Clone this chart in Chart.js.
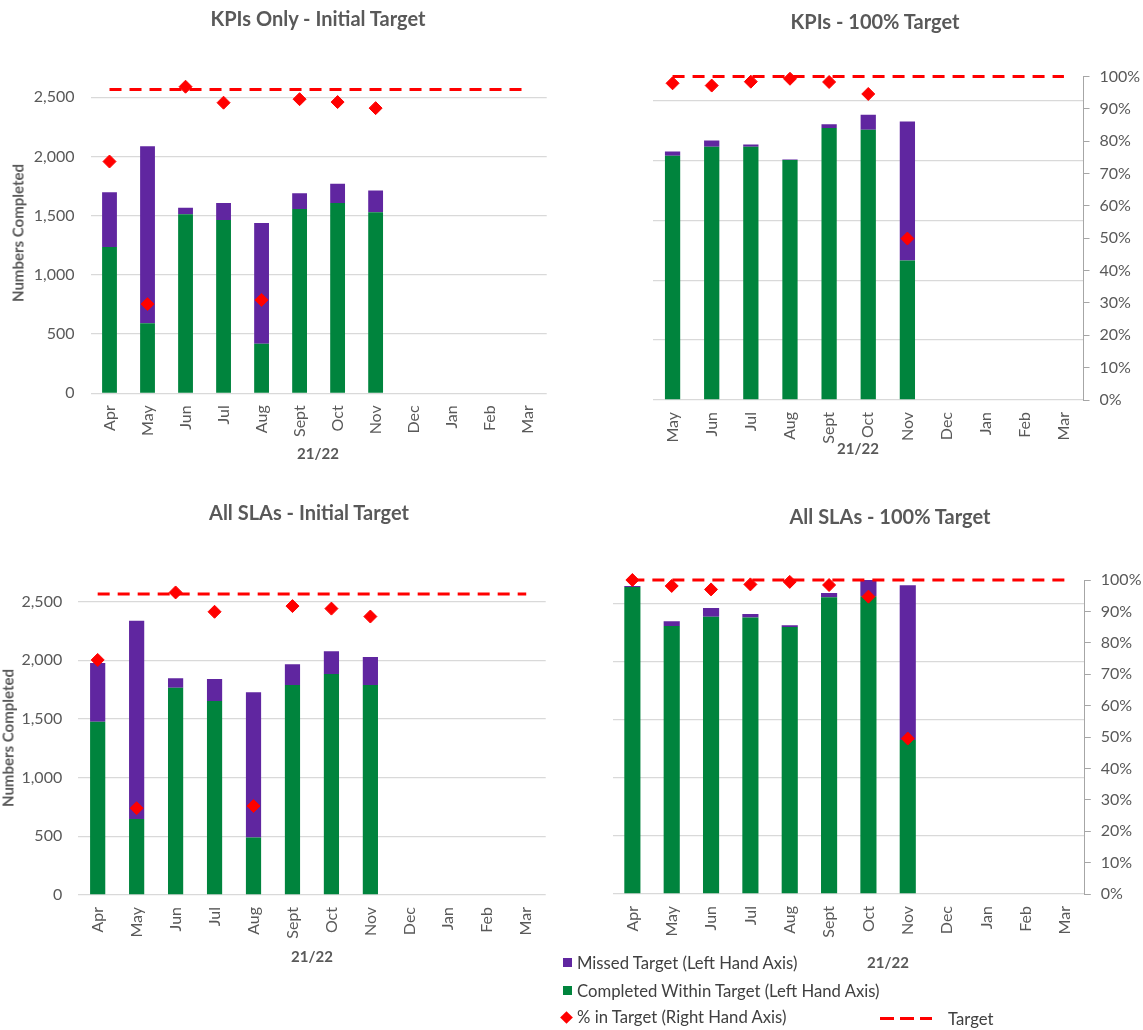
<!DOCTYPE html>
<html>
<head>
<meta charset="utf-8">
<script src="https://cdn.jsdelivr.net/npm/chart.js@4.4.0/dist/chart.umd.min.js"></script>
<style>
  html, body { margin: 0; padding: 0; background: #fff; }
  body { width: 1143px; height: 1030px; position: relative; overflow: hidden; font-family: Lato, "Open Sans", sans-serif; }
  .box { position: absolute; }
  .txt { position: absolute; white-space: nowrap; line-height: 1; transform: translate(-50%, -50%); color: #595959; }
  .title { font-weight: bold; font-size: 20px; }
  .yr { font-weight: bold; font-size: 15px; }
  .ytitle { font-weight: bold; font-size: 15px; transform: translate(-50%, -50%) rotate(-90deg); }
  .leg { position: absolute; white-space: nowrap; line-height: 1; transform: translateY(-50%); color: #404040; font-size: 16.7px; }
  .sq { position: absolute; width: 9px; height: 9px; }
  .dia { position: absolute; width: 9px; height: 9px; background: #ff0000; transform: rotate(45deg); }
  .dash { position: absolute; height: 3px; background: repeating-linear-gradient(to right, #ff0000 0 14px, transparent 14px 20px); }
</style>
</head>
<body>

<div class="box" style="left:0px;top:0px;width:560px;height:470px"><canvas id="c1"></canvas></div>
<div class="box" style="left:580px;top:0px;width:563px;height:470px"><canvas id="c2"></canvas></div>
<div class="box" style="left:0px;top:490px;width:560px;height:470px"><canvas id="c3"></canvas></div>
<div class="box" style="left:580px;top:490px;width:563px;height:470px"><canvas id="c4"></canvas></div>

<div class="txt title" style="left:318px;top:18px">KPIs Only - Initial Target</div>
<div class="txt title" style="left:875px;top:21px">KPIs - 100% Target</div>
<div class="txt title" style="left:309px;top:512px">All SLAs - Initial Target</div>
<div class="txt title" style="left:890px;top:516px">All SLAs - 100% Target</div>

<div class="txt ytitle" style="left:18px;top:233px">Numbers Completed</div>
<div class="txt ytitle" style="left:8px;top:738px">Numbers Completed</div>

<div class="txt yr" style="left:318px;top:453px">21/22</div>
<div class="txt yr" style="left:858px;top:448px">21/22</div>
<div class="txt yr" style="left:312px;top:956px">21/22</div>
<div class="txt yr" style="left:888px;top:962px">21/22</div>

<div class="sq" style="left:563px;top:958px;background:#6026a0"></div>
<div class="leg" style="left:577px;top:963px">Missed Target (Left Hand Axis)</div>
<div class="sq" style="left:563px;top:986px;background:#00843d"></div>
<div class="leg" style="left:577px;top:991px">Completed Within Target (Left Hand Axis)</div>
<div class="dia" style="left:562px;top:1013px"></div>
<div class="leg" style="left:577px;top:1017px">% in Target (Right Hand Axis)</div>
<div class="dash" style="left:880px;top:1017px;width:52px"></div>
<div class="leg" style="left:948px;top:1019px">Target</div>

<script>
// ---------- data ----------
const monthsFull = ['Apr','May','Jun','Jul','Aug','Sept','Oct','Nov','Dec','Jan','Feb','Mar'];
const monthsFromMay = ['May','Jun','Jul','Aug','Sept','Oct','Nov','Dec','Jan','Feb','Mar'];

// left-axis (numbers) tick values and right-axis (%) tick values
const countTicks = [0, 500, 1000, 1500, 2000, 2500];
const pctTicks = [0, 0.1, 0.2, 0.3, 0.4, 0.5, 0.6, 0.7, 0.8, 0.9, 1.0];
const leftAxisMax = 2700;

// KPIs Only - Initial Target
const kpiInitCompleted = [1236, 591, 1513, 1464, 419, 1557, 1607, 1529, null, null, null, null];
const kpiInitMissed    = [462, 1495, 53, 143, 1019, 132, 163, 184, null, null, null, null];
const kpiInitPct       = [0.725, 0.279, 0.959, 0.909, 0.292, 0.920, 0.911, 0.892, null, null, null, null];
const kpiInitTarget    = [0.95, 0.95, 0.95, 0.95, 0.95, 0.95, 0.95, 0.95, 0.95, 0.95, 0.95, 0.95];

// KPIs - 100% Target
const kpi100Completed = [2038, 2113, 2113, 2003, 2271, 2255, 1165, null, null, null, null];
const kpi100Missed    = [36, 53, 20, 5, 31, 125, 1159, null, null, null, null];
const kpi100Pct       = [0.979, 0.972, 0.984, 0.993, 0.983, 0.946, 0.499, null, null, null, null];
const kpi100Target    = [1, 1, 1, 1, 1, 1, 1, 1, 1, 1, 1];

// All SLAs - Initial Target
const slaInitCompleted = [1477, 648, 1767, 1653, 489, 1790, 1884, 1790, null, null, null, null];
const slaInitMissed    = [500, 1690, 80, 188, 1238, 176, 193, 238, null, null, null, null];
const slaInitPct       = [0.742, 0.274, 0.955, 0.894, 0.281, 0.912, 0.904, 0.879, null, null, null, null];
const slaInitTarget    = [0.95, 0.95, 0.95, 0.95, 0.95, 0.95, 0.95, 0.95, 0.95, 0.95, 0.95, 0.95];

// All SLAs - 100% Target
const sla100Completed = [2640, 2305, 2385, 2377, 2296, 2552, 2560, 1325, null, null, null, null];
const sla100Missed    = [9, 40, 75, 31, 15, 37, 140, 1330, null, null, null, null];
const sla100Pct       = [1.0, 0.981, 0.970, 0.986, 0.994, 0.984, 0.947, 0.495, null, null, null, null];
const sla100Target    = [1, 1, 1, 1, 1, 1, 1, 1, 1, 1, 1, 1];

// ---------- styling ----------
const GREEN = '#00843d';
const PURPLE = '#6026a0';
const RED = '#ff0000';
const GRID = '#d9d9d9';
const TEXT = '#595959';
const FONT = 'Lato, "Open Sans", sans-serif';

function build(id, cfg) {
  const datasets = [
    { type: 'bar', label: 'Completed Within Target (Left Hand Axis)', data: cfg.completed, backgroundColor: GREEN,
      yAxisID: 'y', order: 3, barPercentage: cfg.bp, categoryPercentage: 1 },
    { type: 'bar', label: 'Missed Target (Left Hand Axis)', data: cfg.missed, backgroundColor: PURPLE,
      yAxisID: 'y', order: 3, barPercentage: cfg.bp, categoryPercentage: 1 },
    { type: 'line', label: 'Target', data: cfg.target, yAxisID: 'y2', borderColor: RED, borderWidth: 3,
      borderDash: [12, 8], pointRadius: 0, fill: false, order: 1, clip: false, tension: 0 },
    { type: 'line', label: '% in Target (Right Hand Axis)', data: cfg.pct, yAxisID: 'y2', showLine: false,
      pointStyle: 'rectRot', pointRadius: 6.5, pointBackgroundColor: RED, pointBorderColor: RED,
      pointBorderWidth: 1, order: 0, clip: false }
  ];
  return new Chart(document.getElementById(id), {
    data: { labels: cfg.labels, datasets },
    options: {
      responsive: true, maintainAspectRatio: false, animation: false,
      layout: { padding: cfg.padding },
      plugins: { legend: { display: false }, tooltip: { enabled: false }, title: { display: false } },
      scales: {
        x: {
          stacked: true,
          grid: { display: false, drawTicks: false },
          border: { display: false },
          ticks: { color: TEXT, font: { family: FONT, size: 16 }, minRotation: 90, maxRotation: 90,
                    autoSkip: false, padding: 12 },
          afterFit: s => { s.height = cfg.xh; }
        },
        y: {
          stacked: true, position: 'left', min: 0, max: leftAxisMax,
          grid: { color: GRID, lineWidth: 1.3, drawTicks: false },
          border: { display: false },
          ticks: { display: cfg.leftTicks, autoSkip: false, color: TEXT,
                    font: { family: FONT, size: 16 }, padding: 16,
                    callback: v => v.toLocaleString('en-US') },
          afterBuildTicks: s => { s.ticks = countTicks.map(v => ({ value: v })); },
          afterFit: s => { s.width = cfg.yw; }
        },
        y2: {
          stacked: false, position: 'right', min: 0, max: 1, display: cfg.rightAxis,
          grid: { drawOnChartArea: false, drawTicks: true, tickLength: 6, color: '#a6a6a6' },
          border: { display: true, color: '#a6a6a6', width: 1 },
          ticks: { autoSkip: false, color: TEXT, font: { family: FONT, size: 16 }, padding: 10,
                   callback: v => Math.round(v * 100) + '%' },
          afterBuildTicks: s => { s.ticks = pctTicks.map(v => ({ value: v })); },
          afterFit: s => { s.width = cfg.y2w; }
        }
      }
    }
  });
}

build('c1', { labels: monthsFull, completed: kpiInitCompleted, missed: kpiInitMissed, pct: kpiInitPct,
  target: kpiInitTarget, bp: 0.39, leftTicks: true, rightAxis: false,
  padding: { top: 73.6, right: 13.3, left: 0, bottom: 0 }, yw: 90.5, y2w: 0, xh: 76.7 });

build('c2', { labels: monthsFromMay, completed: kpi100Completed, missed: kpi100Missed, pct: kpi100Pct,
  target: kpi100Target, bp: 0.39, leftTicks: false, rightAxis: true,
  padding: { top: 76.5, right: 0, left: 0, bottom: 0 }, yw: 73, y2w: 59.5, xh: 70 });

build('c3', { labels: monthsFull, completed: slaInitCompleted, missed: slaInitMissed, pct: slaInitPct,
  target: slaInitTarget, bp: 0.39, leftTicks: true, rightAxis: false,
  padding: { top: 88.2, right: 14.3, left: 0, bottom: 0 }, yw: 78.2, y2w: 0, xh: 65 });

build('c4', { labels: monthsFull, completed: sla100Completed, missed: sla100Missed, pct: sla100Pct,
  target: sla100Target, bp: 0.41, leftTicks: false, rightAxis: true,
  padding: { top: 90, right: 0, left: 0, bottom: 0 }, yw: 32.7, y2w: 58.2, xh: 66 });
</script>
</body>
</html>
